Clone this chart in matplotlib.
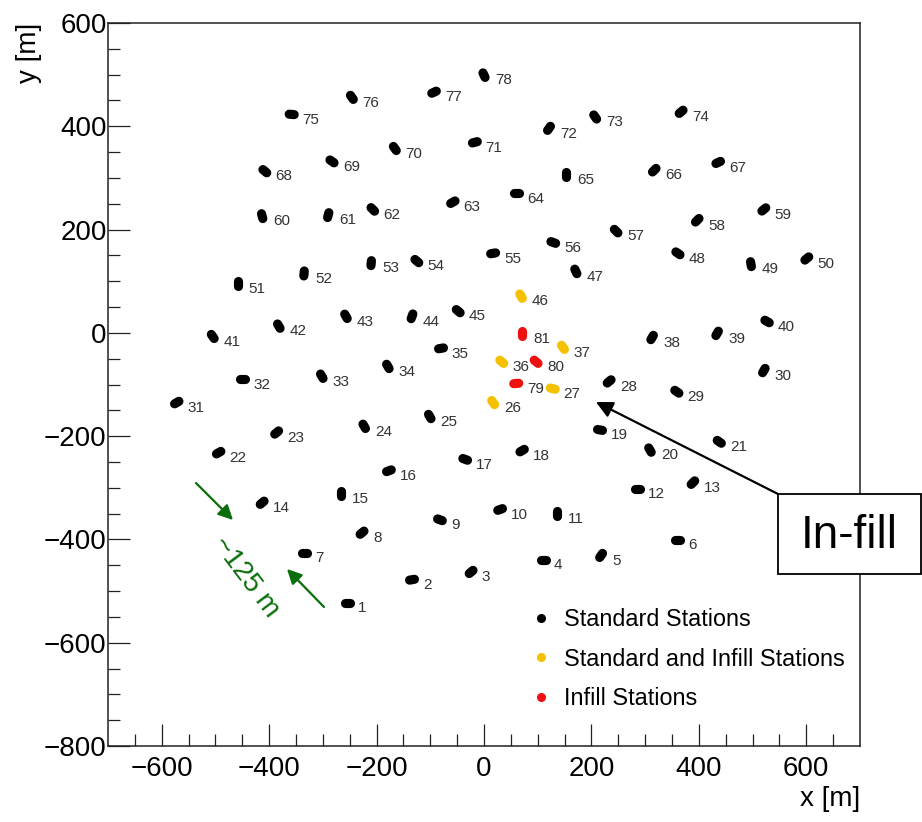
import numpy as np
import matplotlib
matplotlib.use("Agg")
import matplotlib.pyplot as plt
from matplotlib.lines import Line2D
from matplotlib.patches import Rectangle

plt.rcParams['font.family'] = ['Liberation Sans', 'DejaVu Sans']

# ---- data: station id, position [m], orientation of the detector pair [deg]
station_id = list(range(1, 82))
station_x = [-255, -134, -24, 110, 218, 361, -335, -227, -82, 30,
             136, 285, 389, -413, -266, -177, -35, 71, 216, 309,
             438, -494, -386, -223, -101, 17, 128, 233, 359, 521,
             -572, -449, -302, -179, -80, 33, 147, 313, 434, 527,
             -505, -382, -257, -134, -48, 69, 171, 361, 497, 601,
             -458, -335, -210, -125, 17, 129, 246, 397, 521, -413,
             -290, -207, -58, 60, 153, 317, 436, -408, -283, -166,
             -17, 121, 207, 367, -358, -246, -93, 0, 60, 97,
             71]
station_y = [-523, -478, -463, -440, -431, -401, -426, -387, -362, -342,
             -350, -302, -290, -329, -311, -267, -245, -228, -188, -227,
             -211, -232, -193, -181, -162, -135, -108, -94, -114, -73,
             -135, -90, -84, -65, -30, -56, -28, -9, -1, 22,
             -7, 13, 32, 32, 42, 71, 119, 154, 133, 144,
             96, 115, 135, 139, 154, 175, 197, 218, 239, 226,
             228, 239, 253, 270, 307, 315, 330, 313, 332, 357,
             369, 396, 418, 428, 423, 456, 466, 499, -98, -56,
             -1]
station_angle = [0, 10, 40, 0, 55, 0, 0, 40, -20, 20,
                 90, 0, 45, 40, 90, 20, -20, 30, -10, -60,
                 -35, 30, 40, -60, -60, -55, -15, 40, -35, 60,
                 30, 0, -60, -60, 10, -40, -55, 60, 60, -30,
                 -55, -60, -60, 70, -40, -60, -65, -35, -80, 40,
                 90, 85, 85, -40, 10, -20, -45, 45, 40, -75,
                 75, -45, 30, 0, 90, 45, 25, -40, -35, -55,
                 15, 55, -55, 40, -5, -55, 25, -65, 5, -40,
                 90]
standard_infill_ids = [26, 27, 36, 37, 46]
infill_ids = [79, 80, 81]

legend_labels = ["Standard Stations", "Standard and Infill Stations", "Infill Stations"]
colors = {"std": "#000000", "both": "#f5c000", "infill": "#ee1111"}

# ---- figure
W, H = 922, 822
fig = plt.figure(figsize=(W / 100, H / 100), dpi=100)
ax_l, ax_r, ax_t, ax_b = 108, 860, 23, 746
ax = fig.add_axes([ax_l / W, 1 - ax_b / H, (ax_r - ax_l) / W, (ax_b - ax_t) / H])
ax.set_xlim(-700, 700)
ax.set_ylim(-800, 600)

# pixel per data unit (for drawing the two detectors of each station)
sx = (ax_r - ax_l) / 1400.0
sy = (ax_b - ax_t) / 1400.0
half_px = 2.5

for sid, x, y, a in zip(station_id, station_x, station_y, station_angle):
    if sid in infill_ids:
        c = colors["infill"]
    elif sid in standard_infill_ids:
        c = colors["both"]
    else:
        c = colors["std"]
    r = np.deg2rad(a)
    dx = half_px * np.cos(r) / sx
    dy = half_px * np.sin(r) / sy
    ax.plot([x - dx, x + dx], [y - dy, y + dy], linestyle='-', lw=6.6,
            solid_capstyle='round', color=c, zorder=3)
    ax.annotate(str(sid), (x, y), xytext=(7.8, -3.8), textcoords='offset points',
                ha='left', va='center', fontsize=11, color='#333333')

# ---- axes styling
ax.set_xticks(np.arange(-600, 601, 200))
ax.set_yticks(np.arange(-800, 601, 200))
ax.set_xticks(np.arange(-650, 700, 50), minor=True)
ax.set_yticks(np.arange(-750, 600, 50), minor=True)
ax.tick_params(which='both', direction='in', top=False, right=False, color='#222222', width=0.9)
ax.tick_params(which='major', length=16, labelsize=20, pad=1)
ax.tick_params(axis='x', which='major', pad=7)
ax.tick_params(which='minor', length=8.5)
for s in ax.spines.values():
    s.set_linewidth(1.1)
    s.set_color('#222222')

ax.set_xlabel("x [m]", loc='right', fontsize=20)
ax.set_ylabel("y [m]", loc='top', fontsize=20)
ax.xaxis.set_label_coords(1.0, -0.055)
ax.yaxis.set_label_coords(-0.088, 1.0)

# ---- legend
handles = [Line2D([], [], linestyle='none', marker='o', ms=5.5, color=colors[k])
           for k in ("std", "both", "infill")]
ax.legend(handles, legend_labels, loc='upper left',
          bbox_to_anchor=((530 - ax_l) / (ax_r - ax_l), (ax_b - 608) / (ax_b - ax_t)),
          frameon=False, fontsize=16.8, handlelength=0.9, handletextpad=0.55,
          labelspacing=0.71, borderpad=0, borderaxespad=0)

# ---- annotations
def fp(px, py):
    return (px / W, 1 - py / H)

# "In-fill" callout box
box_x0, box_y0, box_x1, box_y1 = 778, 494, 921, 574
fig.patches.append(Rectangle(fp(box_x0, box_y1), (box_x1 - box_x0) / W, (box_y1 - box_y0) / H,
                             transform=fig.transFigure, facecolor='white', edgecolor='black',
                             linewidth=1.3, zorder=5))
fig.text(*fp(849, 536), "In-fill", fontsize=33, ha='center', va='center', zorder=6)
ax.annotate("", xy=fp(596, 402), xycoords='figure fraction',
            xytext=fp(box_x0, box_y0), textcoords='figure fraction',
            arrowprops=dict(arrowstyle='-|>', color='black', lw=1.6, mutation_scale=25,
                            shrinkA=0, shrinkB=0), annotation_clip=False)

# spacing indicator (green)
green = '#0a6e0a'
ax.annotate("", xy=fp(233, 520), xycoords='figure fraction',
            xytext=fp(196, 483), textcoords='figure fraction',
            arrowprops=dict(arrowstyle='-|>', color=green, lw=1.6, mutation_scale=22,
                            shrinkA=0, shrinkB=0))
ax.annotate("", xy=fp(287, 569), xycoords='figure fraction',
            xytext=fp(324, 607), textcoords='figure fraction',
            arrowprops=dict(arrowstyle='-|>', color=green, lw=1.6, mutation_scale=22,
                            shrinkA=0, shrinkB=0))
fig.text(*fp(246, 577), "~125 m", fontsize=20, color=green, rotation=-53,
         ha='center', va='center', rotation_mode='anchor')

fig.savefig("out.png", dpi=100, facecolor='white')
